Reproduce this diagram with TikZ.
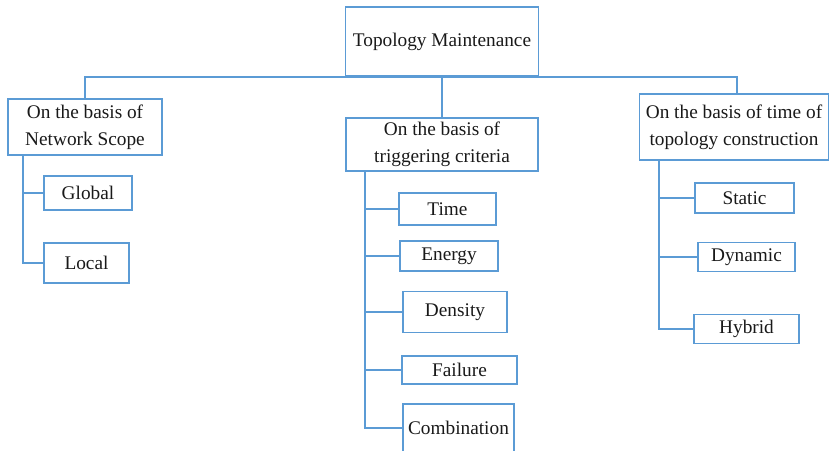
\documentclass[tikz,border=0pt]{standalone}
\usepackage{fontspec}
\setmainfont{Liberation Serif}
\definecolor{boxblue}{HTML}{5B9BD5}
\tikzset{
  box/.style={draw=boxblue, line width=1.8pt, align=center, inner sep=0pt, text=black!90,
    font=\fontsize{19.3}{27}\selectfont},
  link/.style={draw=boxblue, line width=1.8pt}
}

\begin{document}
\begin{tikzpicture}[x=1pt,y=-1pt]
\useasboundingbox (0,0) rectangle (830,450);
\clip (0,0) rectangle (830,450);
\node[box, minimum width=193, minimum height=69] (root) at (442,41.5) {Topology Maintenance};
\node[box, minimum width=154, minimum height=56] (lscope) at (85,127) {On the basis of\\Network Scope};
\node[box, minimum width=192, minimum height=53] (mscope) at (442,144.5) {On the basis of\\triggering criteria};
\node[box, minimum width=189, minimum height=66] (rscope) at (734,127) {On the basis of time of\\topology construction};
% left group
\node[box, minimum width=88, minimum height=34] (global) at (88,193) {Global};
\node[box, minimum width=85, minimum height=40] (local) at (86.5,263) {Local};
% middle group
\node[box, minimum width=97, minimum height=32] (time) at (447.5,209) {Time};
\node[box, minimum width=98, minimum height=30] (energy) at (449,256) {Energy};
\node[box, minimum width=104, minimum height=41] (density) at (455,312) {Density};
\node[box, minimum width=115, minimum height=28] (failure) at (459.5,370) {Failure};
\node[box, minimum width=111, minimum height=48] (combination) at (458.5,428) {Combination};
% right group
\node[box, minimum width=99, minimum height=30] (static) at (744.5,198) {Static};
\node[box, minimum width=97, minimum height=29] (dynamic) at (746.5,257) {Dynamic};
\node[box, minimum width=105, minimum height=29] (hybrid) at (746.5,329) {Hybrid};

% top level
\draw[link] (lscope.north) |- ([xshift=3]rscope.north |- root.south) -- ([xshift=3]rscope.north);
\draw[link] (root.south) -- (mscope.north);

% trunks
\coordinate (ltrunk) at ([xshift=16]lscope.south west);
\coordinate (mtrunk) at ([xshift=20]mscope.south west);
\coordinate (rtrunk) at ([xshift=20]rscope.south west);
\draw[link] (ltrunk) |- (local.west);
\draw[link] (ltrunk |- global.west) -- (global.west);
\draw[link] (mtrunk) |- (combination.west);
\draw[link] (mtrunk |- time.west) -- (time.west);
\draw[link] (mtrunk |- energy.west) -- (energy.west);
\draw[link] (mtrunk |- density.west) -- (density.west);
\draw[link] (mtrunk |- failure.west) -- (failure.west);
\draw[link] (rtrunk) |- (hybrid.west);
\draw[link] (rtrunk |- static.west) -- (static.west);
\draw[link] (rtrunk |- dynamic.west) -- (dynamic.west);
\end{tikzpicture}
\end{document}
